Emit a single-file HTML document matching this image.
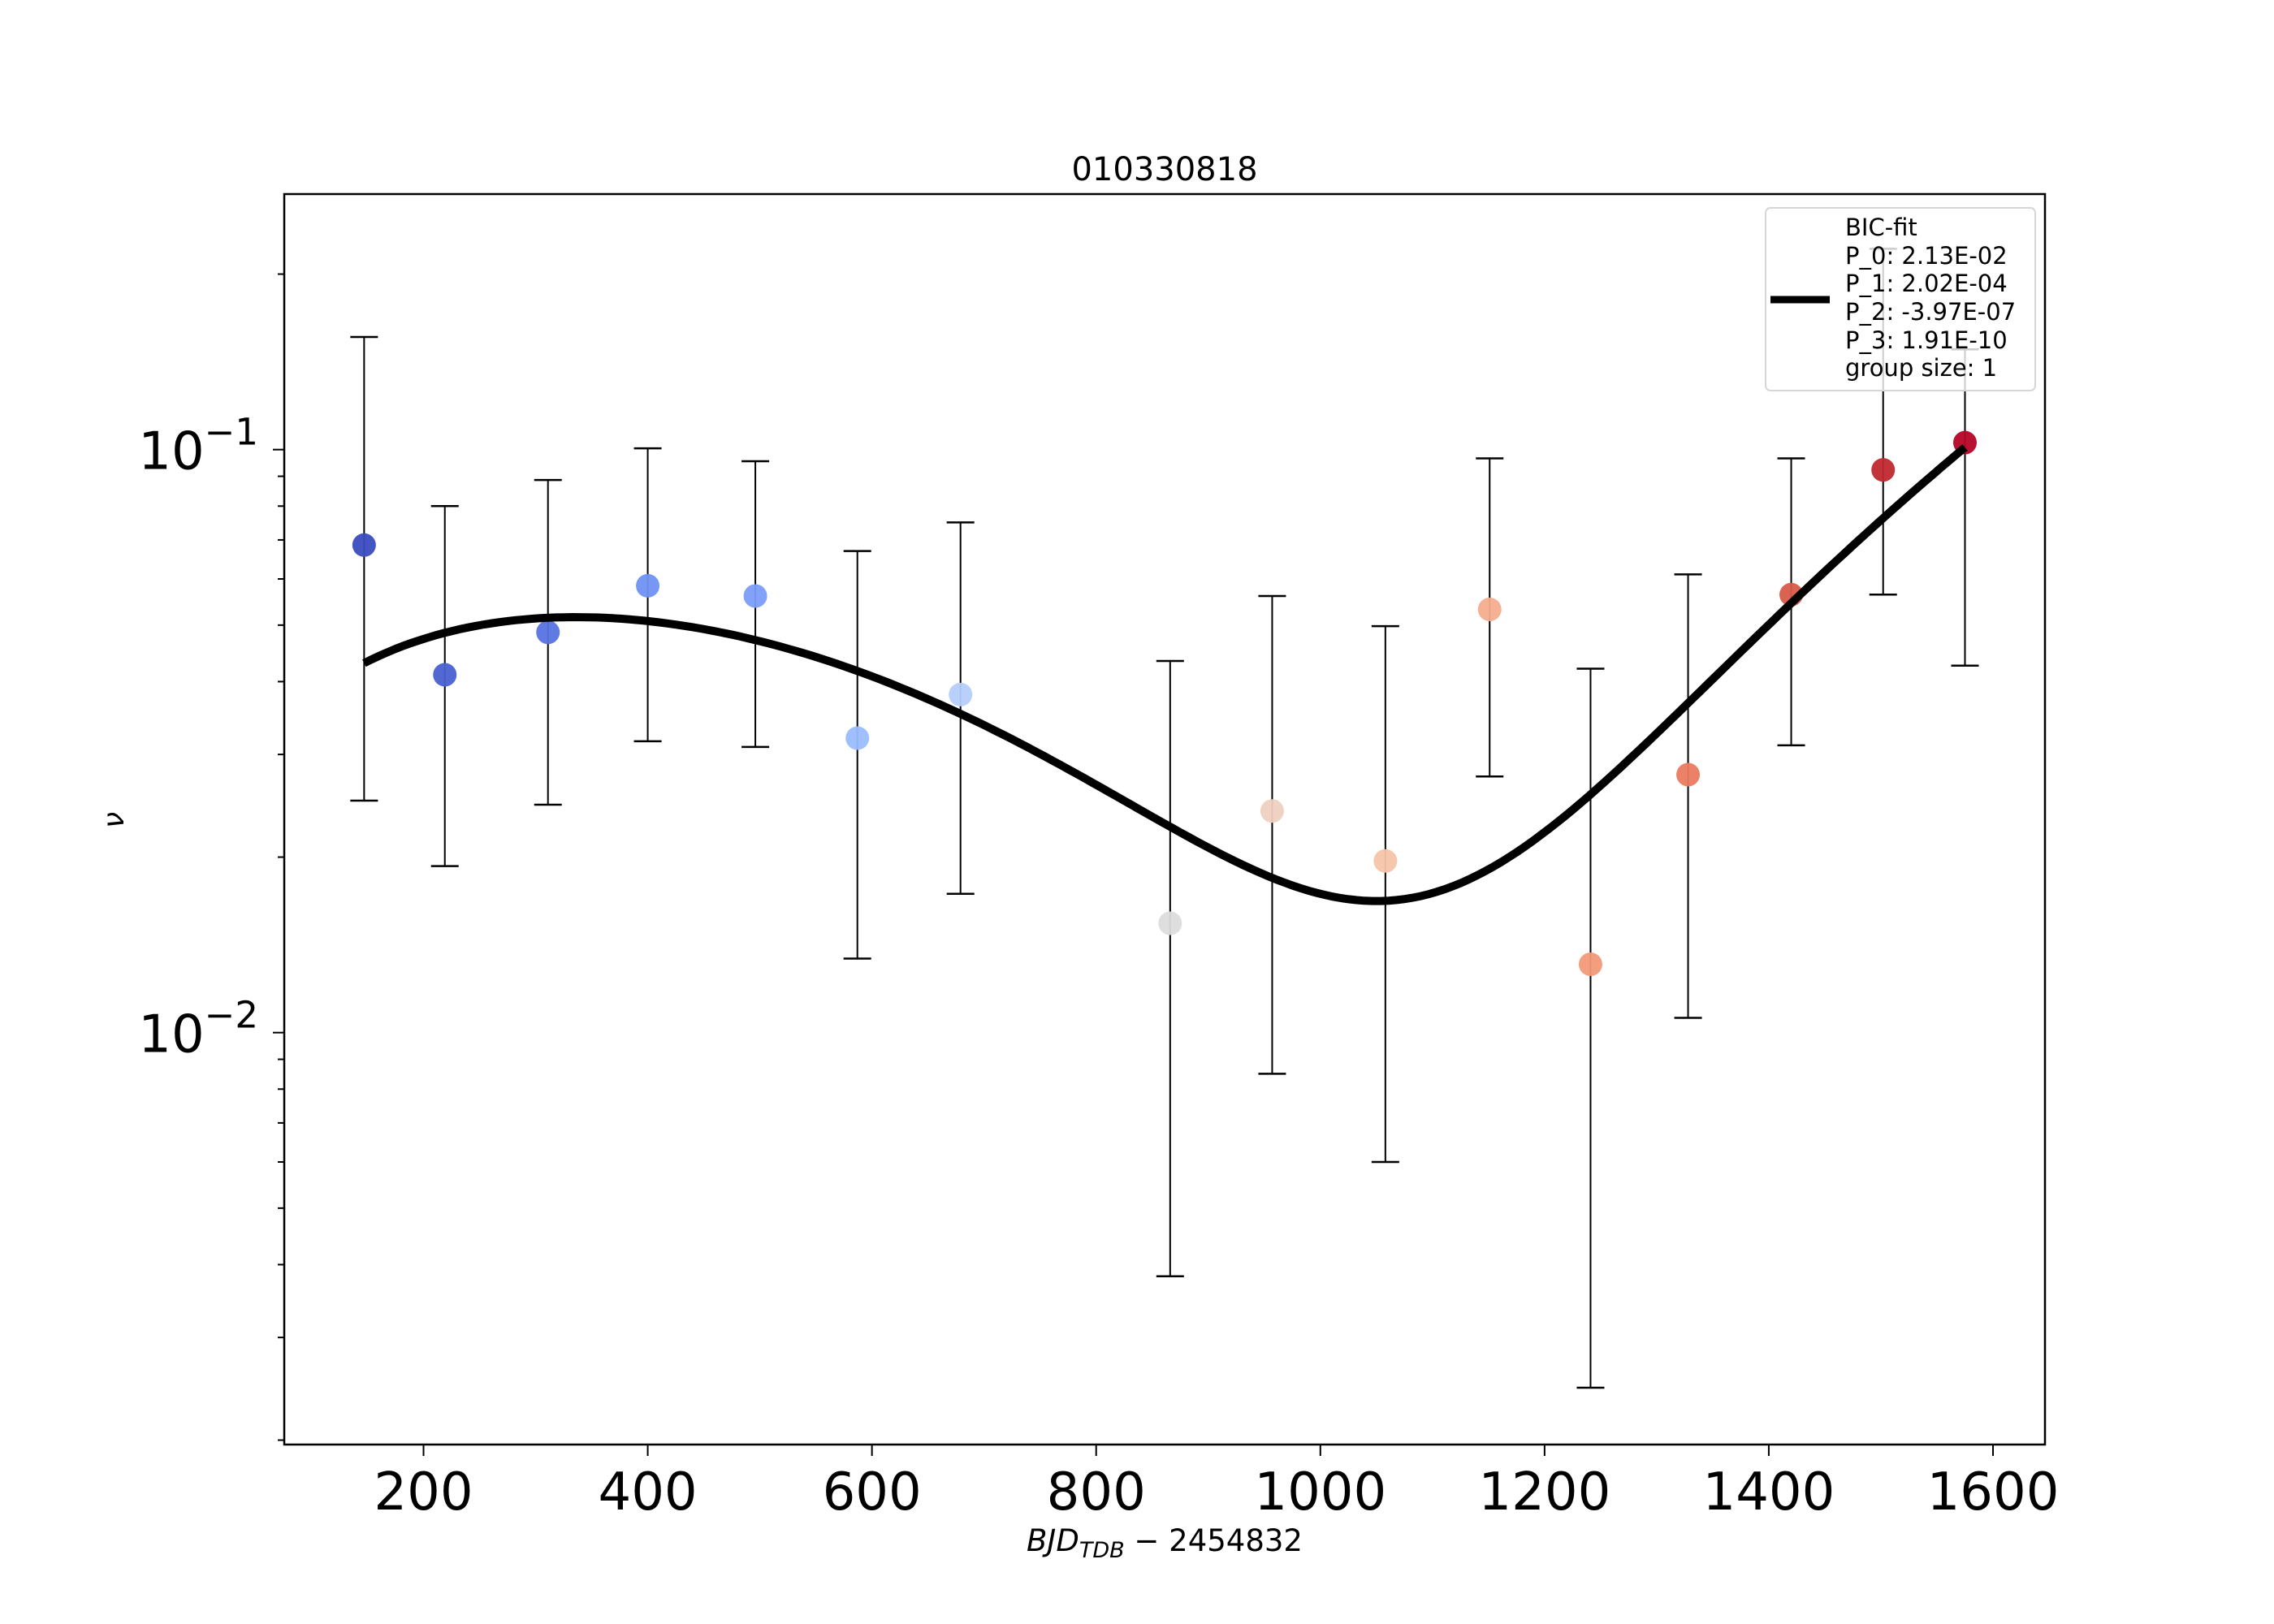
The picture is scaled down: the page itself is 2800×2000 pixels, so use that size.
<!DOCTYPE html>
<html><head><meta charset="utf-8"><style>
body{margin:0;background:#fff}
svg{display:block;font-family:"DejaVu Sans","Liberation Sans",sans-serif}
</style></head><body>
<svg id="chart" width="2800" height="2000" viewBox="0 0 2800 2000">
<rect width="2800" height="2000" fill="#fff"/>
<text x="1434" y="222" font-size="40" text-anchor="middle">010330818</text>
<g id="plot"></g>
<g id="axes"></g>
<text x="1434" y="1910" font-size="37" text-anchor="middle"><tspan font-style="italic">BJD</tspan><tspan font-style="italic" font-size="27" dy="8">TDB</tspan><tspan dy="-8"> − 2454832</tspan></text>
<text transform="translate(152,1010) rotate(-90)" font-size="36" font-style="italic" text-anchor="middle">ν</text>
<g>
<rect x="2174" y="256" width="332" height="225" rx="6" fill="#fff" fill-opacity="0.8" stroke="#d6d6d6" stroke-width="2"/>
<line x1="2180" y1="369" x2="2253" y2="369" stroke="#000" stroke-width="9"/>
<text font-size="29">
<tspan x="2272" y="290">BIC-fit</tspan><tspan x="2272" y="325">P_0: 2.13E-02</tspan><tspan x="2272" y="359">P_1: 2.02E-04</tspan><tspan x="2272" y="394">P_2: -3.97E-07</tspan><tspan x="2272" y="429">P_3: 1.91E-10</tspan><tspan x="2272" y="463">group size: 1</tspan>
</text>
</g>
</svg>
<script>
const xs=[147,219,311,400,496,587,679,866,957,1058,1151,1241,1328,1420,1502,1575];
const vals=[0.0686,0.0411,0.0486,0.0584,0.0561,0.032,0.038,0.0154,0.024,0.0197,0.0532,0.0131,0.0277,0.0564,0.0923,0.1028];
const errHi=[0.156,0.080,0.0887,0.1005,0.0955,0.067,0.075,0.0434,0.0561,0.0498,0.0966,0.0421,0.0611,0.0966,0.221,0.1486];
const errLo=[0.025,0.0193,0.0246,0.0316,0.0309,0.0134,0.0173,0.00382,0.0085,0.0060,0.0275,0.00246,0.0106,0.0311,0.0564,0.0426];
const params=[2.13e-2,2.02e-4,-3.97e-7,1.91e-10];
const xTicks=[200,400,600,800,1000,1200,1400,1600];
const colors=["#3a4cc0","#4961d2","#5673e0","#6f92f3","#7a9df8","#9bbcff","#b4cdfa","#dcdcdc","#eed0c0","#f5c3a9","#f6ad8e","#f29a78","#ea7b60","#d85a47","#c0282f","#b40426"];
const L=350,R=2518,T=239,B=1779;
const X=v=>521.5+(v-200)*(2454-521.5)/1400;
const Y=v=>553.7-(Math.log10(v)+1)*718;
const NS="http://www.w3.org/2000/svg";
const plot=document.getElementById('plot'),axes=document.getElementById('axes');
function mk(tag,attrs,parent){const e=document.createElementNS(NS,tag);for(const k in attrs)e.setAttribute(k,attrs[k]);parent.appendChild(e);return e;}
xs.forEach((x,i)=>{
  const g=mk('g',{},plot);
  
  
  const cx=X(x);
  mk('line',{x1:cx,x2:cx,y1:Y(errHi[i]),y2:Y(errLo[i]),stroke:'#000','stroke-width':2},g);
  mk('line',{x1:cx-17,x2:cx+17,y1:Y(errHi[i]),y2:Y(errHi[i]),stroke:'#000','stroke-width':2.5},g);
  mk('line',{x1:cx-17,x2:cx+17,y1:Y(errLo[i]),y2:Y(errLo[i]),stroke:'#000','stroke-width':2.5},g);
});
xs.forEach((x,i)=>{
  const c=mk('circle',{cx:X(x),cy:Y(vals[i]),r:14.5,fill:colors[i],'fill-opacity':0.95},plot);
  
  
});
let d='';
for(let k=0;k<=200;k++){const x=xs[0]+(xs[xs.length-1]-xs[0])*k/200;
  const v=params[0]+params[1]*x+params[2]*x*x+params[3]*x*x*x;
  d+=(k?'L':'M')+X(x).toFixed(1)+','+Y(v).toFixed(1);}
const fit=mk('path',{d:d,fill:'none',stroke:'#000','stroke-width':10},plot);


const fr=mk('rect',{x:L,y:T,width:R-L,height:B-T,fill:'none',stroke:'#000','stroke-width':2.5},axes);


xTicks.forEach(t=>{
  mk('line',{x1:X(t),x2:X(t),y1:B,y2:B+14,stroke:'#000','stroke-width':2},axes);
  const tx=mk('text',{x:X(t),y:B+80,'font-size':64,'text-anchor':'middle'},axes);
  tx.textContent=t;
  
  
});
for(let e=-3;e<=-1;e++){for(let m=1;m<=9;m++){const v=m*Math.pow(10,e);const y=Y(v);
  if(y<T||y>B)continue;
  mk('line',{x1:L,x2:L-(m===1?14:8),y1:y,y2:y,stroke:'#000','stroke-width':2},axes);}}
[-1,-2].forEach(e=>{
  const tx=mk('text',{x:318,y:Y(Math.pow(10,e))+24,'font-size':64,'text-anchor':'end'},axes);
  tx.innerHTML='10<tspan font-size="45" dy="-30">−'+(-e)+'</tspan>';
  
  
});
</script>
</body></html>
